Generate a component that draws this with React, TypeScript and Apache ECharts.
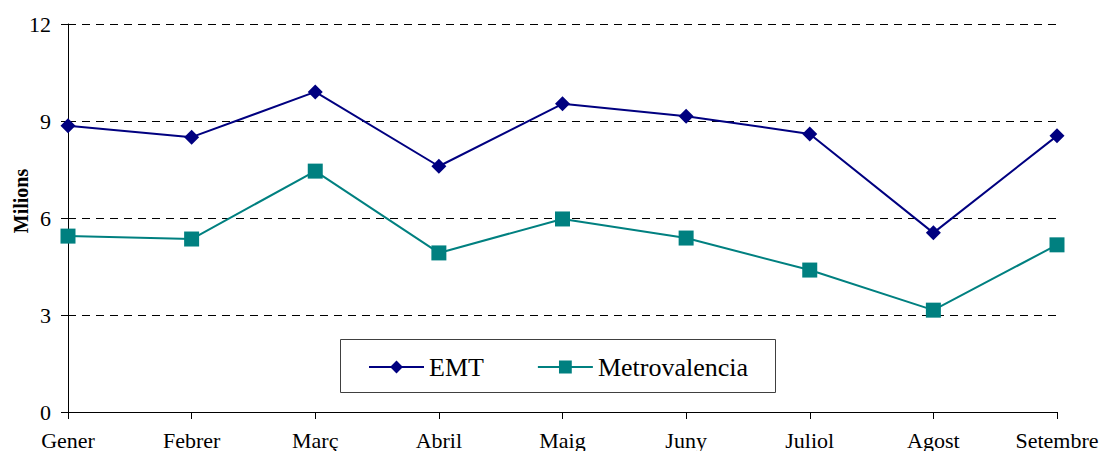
import React, { useEffect, useRef } from "react";
import * as echarts from "echarts";

const months = ["Gener", "Febrer", "Març", "Abril", "Maig", "Juny", "Juliol", "Agost", "Setembre"];
const emt = [8.85, 8.5, 9.9, 7.6, 9.53, 9.15, 8.6, 5.54, 8.54];
const metro = [5.44, 5.35, 7.45, 4.92, 5.97, 5.38, 4.39, 3.15, 5.17];
const yTicks = [0, 3, 6, 9, 12];

const FONT = "Liberation Serif";

export default function App() {
  const ref = useRef<HTMLDivElement>(null);
  useEffect(() => {
    if (!ref.current) return;
    const chart = echarts.init(ref.current, undefined, { renderer: "svg" });
    chart.setOption({
      animation: false,
      backgroundColor: "#ffffff",
      textStyle: { fontFamily: FONT, color: "#000" },
      grid: { left: 68, right: 45, top: 24, bottom: 39, containLabel: false },
      xAxis: {
        type: "category",
        data: months,
        boundaryGap: false,
        axisLine: { lineStyle: { color: "#000", width: 1 } },
        axisTick: { show: true, inside: false, length: 7, lineStyle: { color: "#000" }, alignWithLabel: true },
        axisLabel: { fontFamily: FONT, fontSize: 22, color: "#000", margin: 28, interval: 0, verticalAlign: "middle", lineHeight: 22 },
        splitLine: { show: false },
      },
      yAxis: {
        type: "value",
        min: yTicks[0],
        max: yTicks[yTicks.length - 1],
        interval: 3,
        axisLine: { show: true, lineStyle: { color: "#000", width: 1 } },
        axisTick: { show: true, inside: false, length: 7, lineStyle: { color: "#000" } },
        axisLabel: { fontFamily: FONT, fontSize: 22, color: "#000", margin: 17 },
        splitLine: { show: true, lineStyle: { color: "#000", type: [8, 6], width: 1 } },
      },
      legend: {
        show: true,
        left: 368,
        top: 354,
        orient: "horizontal",
        itemWidth: 55,
        itemHeight: 16,
        itemGap: 53,
        padding: 0,
        textStyle: { fontFamily: FONT, fontSize: 26, color: "#000", padding: [0, 0, 0, 0] },
        data: ["EMT", "Metrovalencia"],
      },
      graphic: [
        {
          type: "rect",
          shape: { x: 340.5, y: 339.5, width: 435, height: 53 },
          style: { fill: "none", stroke: "#404040", lineWidth: 1 },
          z: 10,
        },
        {
          type: "text",
          x: 21,
          y: 201,
          rotation: Math.PI / 2,
          style: {
            text: "Milions",
            fontFamily: FONT,
            fontWeight: "bold",
            fontSize: 20,
            fill: "#000",
            align: "center",
            verticalAlign: "middle",
          },
        },
      ],
      series: [
        {
          name: "EMT",
          type: "line",
          data: emt,
          symbol: "diamond",
          symbolSize: 15,
          lineStyle: { color: "#000080", width: 2 },
          itemStyle: { color: "#000080" },
          z: 3,
        },
        {
          name: "Metrovalencia",
          type: "line",
          data: metro,
          symbol: "rect",
          symbolSize: 15,
          lineStyle: { color: "#008080", width: 2 },
          itemStyle: { color: "#008080" },
          z: 3,
        },
      ],
    });
    return () => chart.dispose();
  }, []);
  return <div ref={ref} style={{ width: 1102, height: 451, position: "absolute", left: 0, top: 0 }} />;
}
